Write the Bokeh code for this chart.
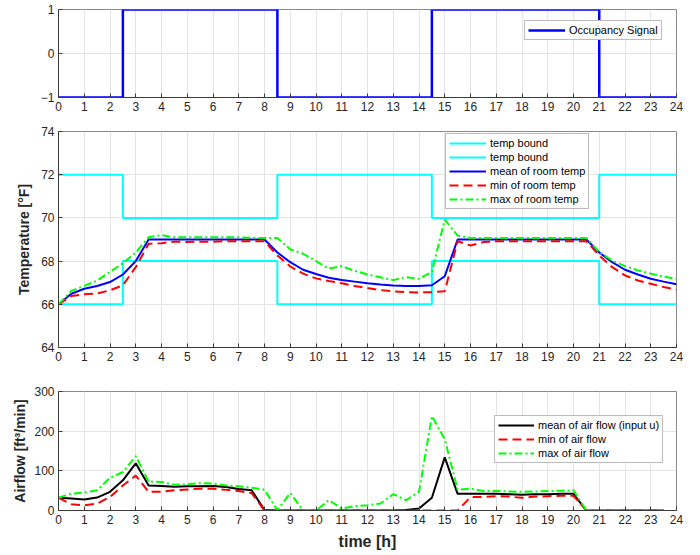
from bokeh.plotting import figure
from bokeh.layouts import column
from bokeh.models import Range1d, FixedTicker, Legend, LegendItem
from bokeh.embed import file_html
from bokeh.resources import INLINE

# ---------------- data ----------------
# occupancy / temperature bounds (step changes)
step_times = [0, 2.5, 8.5, 14.5, 21, 24]
occupancy = [-1, 1, -1, 1, -1, -1]
upper_bound = [72, 70, 72, 70, 72, 72]
lower_bound = [66, 68, 66, 68, 66, 66]

# temperature samples (every half hour, 0 .. 24)
hours_temp = [0, 0.5, 1, 1.5, 2, 2.5, 3, 3.5, 4, 4.5, 5, 5.5, 6, 6.5, 7, 7.5, 8,
              8.5, 9, 9.5, 10, 10.5, 11, 11.5, 12, 12.5, 13, 13.5, 14, 14.5, 15,
              15.5, 16, 16.5, 17, 17.5, 18, 18.5, 19, 19.5, 20, 20.5, 21, 21.5,
              22, 22.5, 23, 23.5, 24]
mean_temp = [66.0, 66.49, 66.72, 66.85, 67.03, 67.38, 68.0, 69.0, 69.0, 69.0, 69.0,
             69.0, 69.0, 69.0, 69.0, 69.0, 69.0,
             68.4, 67.95, 67.6, 67.4, 67.23, 67.12, 67.05, 66.98, 66.92, 66.87,
             66.85, 66.85, 66.88, 67.3,
             69.0, 69.0, 69.0, 69.0, 69.0, 69.0, 69.0, 69.0, 69.0, 69.0, 69.0,
             68.4, 67.95, 67.6, 67.38, 67.18, 67.05, 66.93]
min_temp = [66.0, 66.38, 66.46, 66.5, 66.65, 66.88, 67.72, 68.8, 68.83, 68.9, 68.88,
            68.9, 68.9, 68.92, 68.92, 68.92, 68.92,
            68.26, 67.75, 67.42, 67.2, 67.08, 66.97, 66.85, 66.75, 66.66, 66.6,
            66.56, 66.55, 66.56, 66.6,
            68.92, 68.72, 68.88, 68.92, 68.92, 68.92, 68.92, 68.92, 68.92, 68.92,
            68.92, 68.26, 67.72, 67.34, 67.1, 66.95, 66.8, 66.68]
max_temp = [66.0, 66.62, 66.85, 67.1, 67.5, 67.9, 68.4, 69.1, 69.2, 69.1, 69.1,
            69.1, 69.1, 69.1, 69.1, 69.08, 69.07,
            69.07, 68.55, 68.34, 68.0, 67.65, 67.77, 67.55, 67.38, 67.25, 67.12,
            67.26, 67.18, 67.5, 69.92,
            69.18, 69.07, 69.07, 69.07, 69.07, 69.07, 69.07, 69.07, 69.07, 69.07,
            69.07, 68.42, 68.03, 67.77, 67.57, 67.42, 67.28, 67.18]

# airflow samples (every half hour, 0 .. 23.5)
hours_air = [0, 0.5, 1, 1.5, 2, 2.5, 3, 3.5, 4, 4.5, 5, 5.5, 6, 6.5, 7, 7.5, 8,
             8.5, 9, 9.5, 10, 10.5, 11, 11.5, 12, 12.5, 13, 13.5, 14, 14.5, 15,
             15.5, 16, 16.5, 17, 17.5, 18, 18.5, 19, 19.5, 20, 20.5, 21, 21.5,
             22, 22.5, 23, 23.5]
mean_air = [32, 30, 27.5, 32.5, 47, 76, 119, 63, 62, 60, 61, 61, 62, 59, 54, 51, 1,
            0, 0, 0, 0, 0, 0, 0, 0, 0, 0, 1, 5, 32, 134,
            42, 42, 42, 42, 41, 40, 41, 41, 42, 42, 0, 0, 0, 0, 0, 0, 0]
min_air = [32, 16, 13, 17.5, 34, 63, 88, 47, 47, 51, 53, 55, 55, 52, 49, 44, 0,
           0, 0, 0, 0, 0, 0, 0, 0, 0, 0, 0, 0, 0, 0,
           0, 34, 34, 36, 35, 32, 35, 36, 37, 37, 0, 0, 0, 0, 0, 0, 0]
max_air = [32, 42.5, 45, 51, 82.5, 97, 137, 73, 72, 65, 66, 69, 68, 63, 61, 57.5, 52.5,
           1, 44, 0, 0, 26, 5, 11, 13, 17.5, 41, 26, 47, 238, 180,
           52.5, 55, 49, 49, 48, 47, 48, 49, 50, 51, 0, 0, 0, 0, 0, 0, 0]

x_ticks = list(range(0, 25))

FONT = "Liberation Sans"
AX = "#3a3a3a"
BOX = "#8a8a8a"
GRID = "#e4e4e4"


def make_fig(height, yr, yticks, b_top, b_bottom):
    p = figure(width=700, height=height, x_range=Range1d(0, 24), y_range=Range1d(*yr),
               output_backend="svg", toolbar_location=None,
               min_border_left=58, min_border_right=24,
               min_border_top=b_top, min_border_bottom=b_bottom)
    p.outline_line_color = BOX
    p.outline_line_width = 1
    p.background_fill_color = "white"
    p.border_fill_color = "white"
    xa = p.xaxis[0]
    ya = p.yaxis[0]
    xa.ticker = FixedTicker(ticks=x_ticks)
    ya.ticker = FixedTicker(ticks=yticks)
    for ax in (xa, ya):
        ax.axis_line_color = AX
        ax.major_tick_line_color = AX
        ax.major_tick_in = 4
        ax.major_tick_out = 0
        ax.minor_tick_line_color = None
        ax.major_label_text_font = FONT
        ax.major_label_text_font_size = "12px"
        ax.major_label_text_color = "#262626"
        ax.major_label_standoff = 4
        ax.axis_label_text_font = FONT
        ax.axis_label_text_font_style = "bold"
        ax.axis_label_text_color = "#262626"
    p.xgrid.ticker = FixedTicker(ticks=x_ticks)
    p.ygrid.ticker = FixedTicker(ticks=yticks)
    p.grid.grid_line_color = GRID
    p.grid.grid_line_width = 1
    return p, xa, ya


def make_legend(items, loc, glyph_w):
    lg = Legend(items=items, location=loc, label_text_font=FONT,
                label_text_font_size="11px", label_text_color="#000000",
                glyph_width=glyph_w, glyph_height=12, label_height=12,
                label_standoff=4, spacing=2, padding=3, margin=0,
                border_line_color="#7a7a7a", border_line_width=1,
                background_fill_color="white", background_fill_alpha=1)
    return lg


# ---------------- panel 1: occupancy ----------------
p1, x1, y1 = make_fig(118, (-1, 1), [-1, 0, 1], 9, 21)
r_occ = p1.step(step_times, occupancy, mode="after", line_color="#0000ff", line_width=2.5)
p1.add_layout(make_legend([LegendItem(label="Occupancy Signal", renderers=[r_occ])],
                          (466, 57), 37))

# ---------------- panel 2: temperature ----------------
p2, x2, y2 = make_fig(254, (64, 74), [64, 66, 68, 70, 72, 74], 13, 25)
y2.axis_label = "Temperature [°F]"
y2.axis_label_text_font_size = "14px"
y2.axis_label_standoff = 6
r_ub = p2.step(step_times, upper_bound, mode="after", line_color="#00ffff", line_width=2)
r_lb = p2.step(step_times, lower_bound, mode="after", line_color="#00ffff", line_width=2)
r_mean = p2.line(hours_temp, mean_temp, line_color="#0000ff", line_width=2)
r_min = p2.line(hours_temp, min_temp, line_color="#ff0000", line_width=2, line_dash="9 5")
r_max = p2.line(hours_temp, max_temp, line_color="#00ff00", line_width=2, line_dash="8 3 2 3")
p2.add_layout(make_legend([
    LegendItem(label="temp bound", renderers=[r_ub]),
    LegendItem(label="temp bound", renderers=[r_lb]),
    LegendItem(label="mean of room temp", renderers=[r_mean]),
    LegendItem(label="min of room temp", renderers=[r_min]),
    LegendItem(label="max of room temp", renderers=[r_max]),
], (387, 138), 37))

# ---------------- panel 3: airflow ----------------
p3, x3, y3 = make_fig(183, (0, 300), [0, 100, 200, 300], 19, 45)
y3.axis_label = "Airflow [ft³/min]"
y3.axis_label_text_font_size = "14px"
y3.axis_label_standoff = 3
x3.axis_label = "time [h]"
x3.axis_label_text_font_size = "16px"
x3.axis_label_standoff = 6
a_mean = p3.line(hours_air, mean_air, line_color="#000000", line_width=2)
a_min = p3.line(hours_air, min_air, line_color="#ff0000", line_width=2, line_dash="9 5")
a_max = p3.line(hours_air, max_air, line_color="#00ff00", line_width=2, line_dash="8 3 2 3")
p3.add_layout(make_legend([
    LegendItem(label="mean of air flow (input u)", renderers=[a_mean]),
    LegendItem(label="min of air flow", renderers=[a_min]),
    LegendItem(label="max of air flow", renderers=[a_max]),
], (436, 47), 36))

layout = column(p1, p2, p3, spacing=0)
open("out.html", "w").write(file_html(layout, INLINE))
